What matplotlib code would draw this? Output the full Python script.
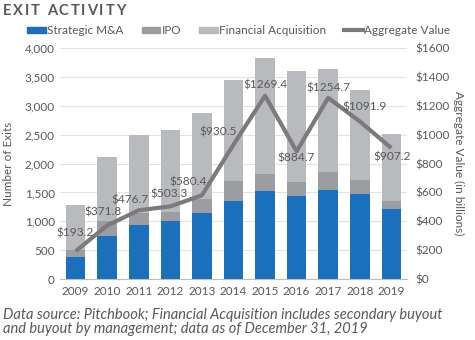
import numpy as np
import matplotlib
matplotlib.use("Agg")
import matplotlib.pyplot as plt
from matplotlib.patches import Patch
from matplotlib.lines import Line2D

plt.rcParams['font.family'] = ['Lato', 'DejaVu Sans']

years = ['2009', '2010', '2011', '2012', '2013', '2014', '2015', '2016', '2017', '2018', '2019']
strategic = [386, 745, 935, 1004, 1137, 1356, 1524, 1443, 1547, 1466, 1207]
ipo = [116, 259, 208, 161, 243, 341, 294, 231, 311, 248, 144]
financial = [788, 1114, 1357, 1415, 1500, 1749, 2004, 1928, 1773, 1559, 1160]
agg_value = [193.2, 371.8, 476.7, 503.3, 580.4, 930.5, 1269.4, 884.7, 1254.7, 1091.9, 907.2]

# label offsets (pixels) for the aggregate value labels
label_dx = [-1, -4, -9, -1, -14, -15, 0, 0, 0, 5, 1]
label_dy = [18, 13, 10, 12, 13, 13, 11, -7, 10, 14, -9]

blue = '#1b70bd'
ipo_grey = '#9c9da0'
fin_grey = '#b9babd'
line_grey = '#7b7b7b'
txt = '#595959'

fig = plt.figure(figsize=(4.75, 3.4), dpi=100)
ax = fig.add_axes([0.126, 0.179, 0.731, 0.68])
ax2 = ax.twinx()

x = np.arange(len(years))
w = 0.62
s = np.array(strategic)
i = np.array(ipo)
f = np.array(financial)
ax.bar(x, s, w, color=blue, zorder=2)
ax.bar(x, i, w, bottom=s, color=ipo_grey, zorder=2)
ax.bar(x, f, w, bottom=s + i, color=fin_grey, zorder=2)

ax.set_xlim(-0.5, len(years) - 0.5)
ax.set_ylim(0, 4000)
ax.set_yticks(range(0, 4001, 500))
ax.set_yticklabels([f'{v:,}' for v in range(0, 4001, 500)])
ax.set_xticks(x)
ax.set_xticklabels(years)
ax.grid(axis='y', color='#e3e3e3', lw=0.8, zorder=0)
ax.set_axisbelow(True)
for sp in ['left', 'right', 'top']:
    ax.spines[sp].set_visible(False)
ax.spines['bottom'].set_color('#bfbfbf')
ax.tick_params(length=0, colors=txt, labelsize=8.5)
ax.tick_params(axis='x', pad=5)
ax.set_ylabel('Number of Exits', color=txt, fontsize=8.5, labelpad=8)

ax2.plot(x, agg_value, color=line_grey, lw=3, solid_capstyle='butt', zorder=3)
ax2.set_ylim(0, 1600)
ax2.set_yticks(range(0, 1601, 200))
ax2.set_yticklabels([f'${v}' for v in range(0, 1601, 200)])
for sp in ax2.spines.values():
    sp.set_visible(False)
ax2.tick_params(length=0, colors=txt, labelsize=8.5, pad=6)
ax2.set_ylabel('Aggregate Value (in billions)', color=txt, fontsize=8.5,
               rotation=270, labelpad=10)

for xi, v, dx, dy in zip(x, agg_value, label_dx, label_dy):
    ax2.annotate(f'${v}', (xi, v), xytext=(dx, dy), textcoords='offset pixels',
                 ha='center', va='center', fontsize=8.6, color=txt)

handles = [Patch(color=blue), Patch(color=ipo_grey), Patch(color=fin_grey),
           Line2D([], [], color=line_grey, lw=3)]
fig.legend(handles, ['Strategic M&A', 'IPO', 'Financial Acquisition', 'Aggregate Value'],
           loc='center left', bbox_to_anchor=(0.035, 0.91), ncol=4, frameon=False,
           fontsize=8.5, handlelength=1.6, handleheight=0.5, handletextpad=0.1,
           columnspacing=1.5, labelcolor=txt)

# letter-spaced title
fig.canvas.draw()
r = fig.canvas.get_renderer()
px = 3
for ch in 'EXIT ACTIVITY':
    t = fig.text(px / 475, 1 - 11 / 340, ch, fontsize=10.5, fontweight='bold',
                 color=txt, va='center', ha='left')
    wpx = t.get_window_extent(r).width
    if ch == ' ':
        wpx = 3
    px += wpx + 1.9

fig.text(3 / 475, 1 - 321.5 / 340,
         'Data source: Pitchbook; Financial Acquisition includes secondary buyout\n'
         'and buyout by management; data as of December 31, 2019',
         fontsize=10.5, style='italic', color=txt, va='center', ha='left',
         linespacing=1.0)

fig.savefig('out.png', dpi=100)
